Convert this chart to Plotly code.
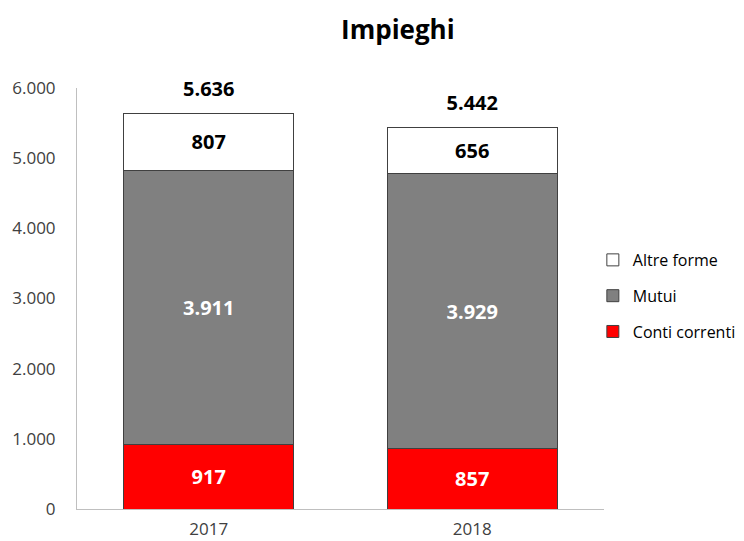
"""
stacked bar chart of impieghi by year
"""
import plotly.graph_objects as go

years = ["2017", "2018"]
conti_correnti = [917, 857]
mutui = [3911, 3929]
altre_forme = [807, 656]
totals = [5636, 5442]
y_ticks = [0, 1000, 2000, 3000, 4000, 5000, 6000]

font_name = "Open Sans"
outline = dict(color="#404040", width=1)

fig = go.Figure()
fig.add_trace(go.Bar(name="Conti correnti", x=years, y=conti_correnti,
                     marker=dict(color="#FF0000", line=outline),
                     texttemplate="<b>%{y:,.0f}</b>",
                     textposition="inside", insidetextanchor="middle", textangle=0,
                     insidetextfont=dict(color="#FFFFFF", size=20, family=font_name),
                     legendgroup="c", legendrank=3))
fig.add_trace(go.Bar(name="Mutui", x=years, y=mutui,
                     marker=dict(color="#808080", line=outline),
                     texttemplate="<b>%{y:,.0f}</b>",
                     textposition="inside", insidetextanchor="middle", textangle=0,
                     insidetextfont=dict(color="#FFFFFF", size=20, family=font_name),
                     legendgroup="b", legendrank=2))
fig.add_trace(go.Bar(name="Altre forme", x=years, y=altre_forme,
                     marker=dict(color="#FFFFFF", line=outline),
                     texttemplate="<b>%{y:,.0f}</b>",
                     textposition="inside", insidetextanchor="middle", textangle=0,
                     insidetextfont=dict(color="#000000", size=20, family=font_name),
                     legendgroup="a", legendrank=1))

# totals above the bars (invisible marker pushes the text up a bit)
fig.add_trace(go.Scatter(x=years, y=totals, mode="markers+text",
                         marker=dict(size=18, opacity=0), cliponaxis=False,
                         texttemplate="<b>%{y:,.0f}</b>", textposition="top center",
                         textfont=dict(color="#000000", size=20, family=font_name),
                         showlegend=False, hoverinfo="skip"))

fig.update_layout(
    width=744, height=541,
    barmode="stack", bargap=0.356,
    separators=",.",
    plot_bgcolor="#FFFFFF", paper_bgcolor="#FFFFFF",
    font=dict(family=font_name, color="#404040", size=17),
    title=dict(text="<b>Impieghi</b>", x=0.524, xanchor="center", y=0.959, yanchor="middle",
               font=dict(size=26, color="#000000", family=font_name)),
    margin=dict(l=69, r=147, t=80, b=40),
    legend=dict(x=0.977, xanchor="left", y=0.506, yanchor="middle",
                traceorder="grouped", tracegroupgap=12,
                font=dict(size=16, color="#000000", family=font_name),
                itemwidth=30),
    xaxis=dict(type="category", automargin=False, showline=True, linecolor="#BFBFBF",
               linewidth=1, ticks="outside", ticklen=5, tickcolor="#FFFFFF",
               tickfont=dict(size=17, color="#404040")),
    yaxis=dict(range=[0, 6000], tickvals=y_ticks, tickformat=",.0f", automargin=False,
               showgrid=False, zeroline=False, showline=True, linecolor="#BFBFBF",
               linewidth=1, ticks="outside", ticklen=17, tickcolor="#FFFFFF",
               tickfont=dict(size=17, color="#404040")),
)

fig.write_html("out.html")
